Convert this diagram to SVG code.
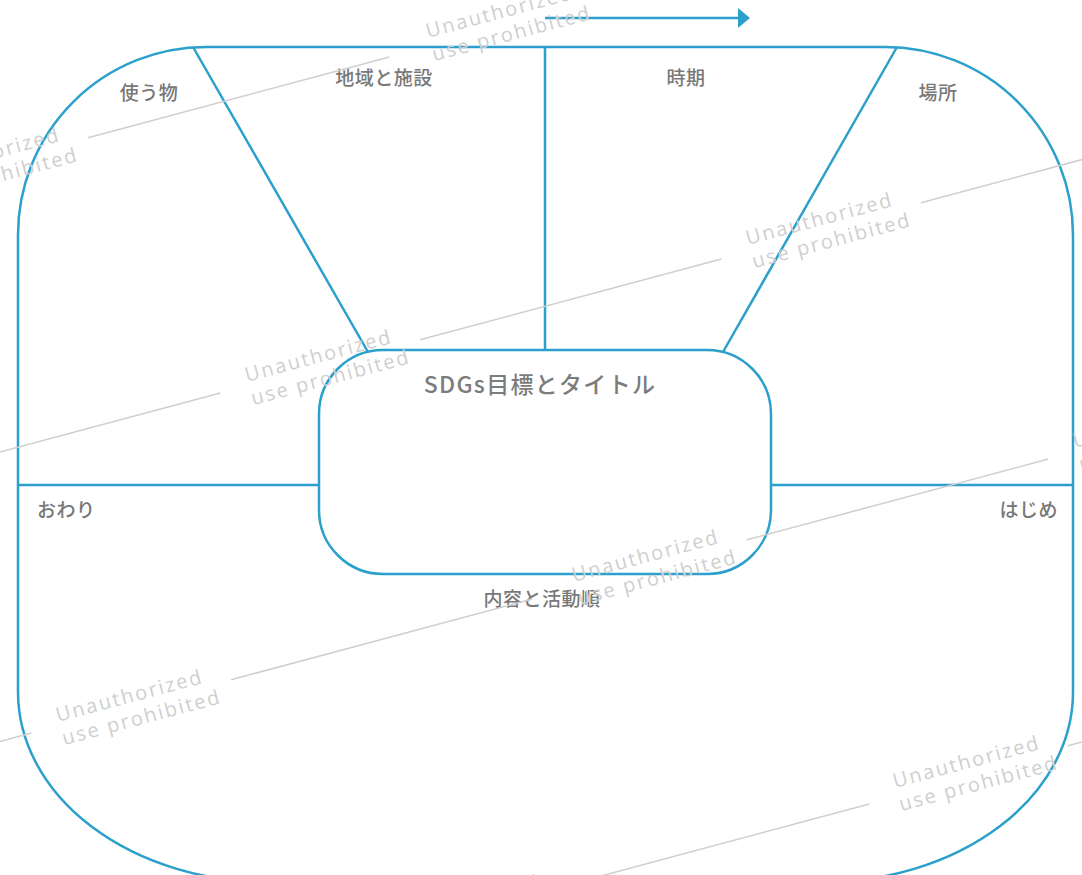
<svg xmlns="http://www.w3.org/2000/svg" xmlns:xlink="http://www.w3.org/1999/xlink" width="1082" height="875" viewBox="0 0 1082 875">
<style>
.frame{fill:none;stroke:#2ba0cc;stroke-width:2.5}
.conn{fill:none;stroke:#2ba0cc;stroke-width:2.5}
.lbl{font-family:"Noto Sans CJK JP","Noto Sans",sans-serif;font-size:19px;font-weight:500;fill:#787878;letter-spacing:0.5px}
.title{font-family:"Noto Sans CJK JP","Noto Sans",sans-serif;font-size:23px;font-weight:500;fill:#7c7c7c;letter-spacing:1.3px}
.wmt{font-family:"Open Sans","Noto Sans",sans-serif;font-size:20px;fill:#cfcfcf;letter-spacing:2px}
.wml{stroke:#cfcfcf;stroke-width:1.5}
</style>
<defs>
<marker id="ah" viewBox="0 0 12 20" refX="0" refY="10" markerWidth="12" markerHeight="20" markerUnits="userSpaceOnUse" orient="auto">
<path d="M0,0 L12,10 L0,20 Z" fill="#2ba0cc"/>
</marker>
<g id="wm">
<text class="wmt" x="0" y="0">Unauthorized</text>
<text class="wmt" x="0" y="24">use prohibited</text>
<line class="wml" x1="178" y1="4" x2="490" y2="4"/>
</g>
</defs>
<rect width="1082" height="875" fill="#fff"/>
<g id="frame">
<path class="frame" d="M206,47 H885 A188,188 0 0 1 1073,235 V692 A250,190 0 0 1 823,882 H268 A250,190 0 0 1 18,692 V235 A188,188 0 0 1 206,47 Z"/>
</g>
<g id="connectors">
<line class="conn" x1="193" y1="47" x2="368" y2="352"/>
<line class="conn" x1="545" y1="47" x2="545" y2="350"/>
<line class="conn" x1="897" y1="47" x2="723" y2="352"/>
<line class="conn" x1="18" y1="485" x2="319" y2="485"/>
<line class="conn" x1="771" y1="485" x2="1073" y2="485"/>
<line class="conn" x1="545" y1="18" x2="738" y2="18" marker-end="url(#ah)"/>
</g>
<g id="center">
<rect x="319" y="350" width="452" height="224" rx="64" ry="64" fill="#fff" stroke="#2ba0cc" stroke-width="2.5"/>
<text class="title" x="540" y="393" text-anchor="middle">SDGs目標とタイトル</text>
</g>
<g id="label-tsukaumono"><text class="lbl" x="149" y="100" text-anchor="middle">使う物</text></g>
<g id="label-chiiki"><text class="lbl" x="384" y="85" text-anchor="middle">地域と施設</text></g>
<g id="label-jiki"><text class="lbl" x="686" y="85" text-anchor="middle">時期</text></g>
<g id="label-basho"><text class="lbl" x="938" y="100" text-anchor="middle">場所</text></g>
<g id="label-owari"><text class="lbl" x="37" y="517">おわり</text></g>
<g id="label-hajime"><text class="lbl" x="1058" y="517" text-anchor="end">はじめ</text></g>
<g id="label-naiyou"><text class="lbl" x="542" y="606" text-anchor="middle">内容と活動順</text></g>
<g id="watermarks">
<use xlink:href="#wm" transform="translate(-85,180) rotate(-15)"/>
<use xlink:href="#wm" transform="translate(428,38) rotate(-15)"/>
<use xlink:href="#wm" transform="translate(748,245) rotate(-15)"/>
<use xlink:href="#wm" transform="translate(247,382) rotate(-15)"/>
<use xlink:href="#wm" transform="translate(-254,516) rotate(-15)"/>
<use xlink:href="#wm" transform="translate(574,582) rotate(-15)"/>
<use xlink:href="#wm" transform="translate(1075,448) rotate(-15)"/>
<use xlink:href="#wm" transform="translate(58,722) rotate(-15)"/>
<use xlink:href="#wm" transform="translate(-443,856) rotate(-15)"/>
<use xlink:href="#wm" transform="translate(895,788) rotate(-15)"/>
<use xlink:href="#wm" transform="translate(395,927) rotate(-15)"/>
</g>
</svg>
